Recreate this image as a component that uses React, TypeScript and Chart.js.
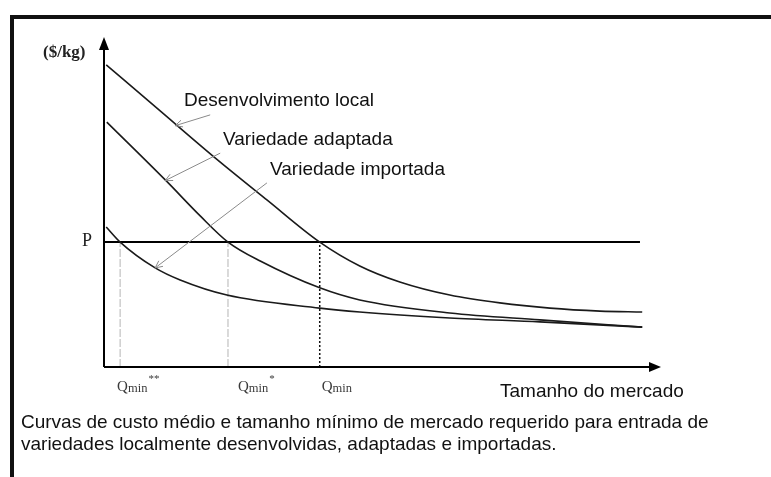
import React, { useEffect, useRef } from "react";
import { Chart, registerables } from "chart.js";

Chart.register(...registerables);

// Market size (x) and average cost (y), both on 0..100 relative scales
const desenvX = [0.4, 10.1, 19.6, 29.3, 38.8, 46.0, 53.2, 62.2, 71.2, 80.2, 89.2, 96.8];
const desenvY = [92.4, 78.3, 64.5, 51.1, 38.2, 30.9, 26.0, 22.0, 19.6, 18.0, 17.1, 16.8];
const adaptX = [0.5, 11.2, 17.3, 22.3, 28.1, 38.8, 46.0, 62.2, 78.4, 96.8];
const adaptY = [74.9, 56.9, 46.2, 38.2, 32.4, 24.2, 20.5, 16.5, 14.4, 12.2];
const importX = [0.4, 2.9, 9.2, 13.7, 22.1, 38.8, 46.0, 62.2, 78.4, 96.8];
const importY = [42.8, 38.2, 30.3, 26.6, 22.0, 18.0, 16.8, 15.0, 13.8, 12.2];

const priceP = 38.2;
const priceLineEnd = 96.4;
const qMinValues = [2.9, 22.3, 38.8];
const qMinSup = ["**", "*", ""];

const seriesNames = ["Desenvolvimento local", "Variedade adaptada", "Variedade importada"];
// annotation arrows: from / to points in data units
const arrowFrom = [
  [19.1, 77.1],
  [20.9, 65.4],
  [29.3, 56.3],
];
const arrowTo = [
  [12.8, 73.8],
  [11.0, 57.0],
  [9.2, 30.3],
];

const yAxisTitle = "($/kg)";
const priceLabel = "P";
const xAxisTitle = "Tamanho do mercado";
const captionLines = [
  "Curvas de custo médio e tamanho mínimo de mercado requerido para entrada de",
  "variedades localmente desenvolvidas, adaptadas e importadas.",
];

const SANS = '"Liberation Sans", Arial, sans-serif';
const SERIF = '"Liberation Serif", "Times New Roman", serif';

const toPts = (xs: number[], ys: number[]) => xs.map((x, i) => ({ x, y: ys[i] }));

const overlay = {
  id: "overlay",
  afterDraw(chart: any) {
    const ctx: CanvasRenderingContext2D = chart.ctx;
    const xs = chart.scales.x;
    const ys = chart.scales.y;
    const px = (v: number) => xs.getPixelForValue(v);
    const py = (v: number) => ys.getPixelForValue(v);
    const x0 = px(0);
    const y0 = py(0);
    ctx.save();

    // frame (top + left)
    ctx.fillStyle = "#111";
    ctx.fillRect(10, 15, 761, 4);
    ctx.fillRect(10, 15, 4, 462);

    // axes
    ctx.strokeStyle = "#000";
    ctx.fillStyle = "#000";
    ctx.lineWidth = 2;
    ctx.beginPath();
    ctx.moveTo(x0, y0);
    ctx.lineTo(x0, ys.top + 8);
    ctx.moveTo(x0, y0);
    ctx.lineTo(xs.right - 8, y0);
    ctx.stroke();
    ctx.beginPath();
    ctx.moveTo(x0, ys.top - 3);
    ctx.lineTo(x0 - 5, ys.top + 10);
    ctx.lineTo(x0 + 5, ys.top + 10);
    ctx.closePath();
    ctx.fill();
    ctx.beginPath();
    ctx.moveTo(xs.right + 1, y0);
    ctx.lineTo(xs.right - 11, y0 - 5);
    ctx.lineTo(xs.right - 11, y0 + 5);
    ctx.closePath();
    ctx.fill();

    // annotation arrows
    ctx.strokeStyle = "#8a8a8a";
    ctx.lineWidth = 1;
    for (let i = 0; i < arrowFrom.length; i++) {
      const ax = px(arrowFrom[i][0]);
      const ay = py(arrowFrom[i][1]);
      const bx = px(arrowTo[i][0]);
      const by = py(arrowTo[i][1]);
      const ang = Math.atan2(by - ay, bx - ax);
      const L = 8;
      ctx.beginPath();
      ctx.moveTo(ax, ay);
      ctx.lineTo(bx, by);
      ctx.moveTo(bx - L * Math.cos(ang - 0.45), by - L * Math.sin(ang - 0.45));
      ctx.lineTo(bx, by);
      ctx.lineTo(bx - L * Math.cos(ang + 0.45), by - L * Math.sin(ang + 0.45));
      ctx.stroke();
    }

    // annotation texts
    ctx.fillStyle = "#111";
    ctx.font = `19px ${SANS}`;
    ctx.textBaseline = "alphabetic";
    ctx.textAlign = "left";
    const annPos = [
      [184, 106],
      [223, 145],
      [270, 175],
    ];
    seriesNames.forEach((n, i) => ctx.fillText(n, annPos[i][0], annPos[i][1]));

    ctx.fillText(xAxisTitle, 500, 397);
    captionLines.forEach((l, i) => ctx.fillText(l, 21, 428 + i * 22));

    ctx.fillStyle = "#222";
    ctx.font = `bold 17px ${SERIF}`;
    ctx.fillText(yAxisTitle, 43, 57);
    ctx.font = `18px ${SERIF}`;
    ctx.fillText(priceLabel, 82, py(priceP) + 4);

    // Q labels
    ctx.fillStyle = "#3a3a3a";
    const labelShift = [-3, 10, 2];
    qMinValues.forEach((q, i) => {
      let x = px(q) + labelShift[i];
      const base = y0 + 24;
      ctx.font = `15px ${SERIF}`;
      ctx.fillText("Q", x, base);
      x += ctx.measureText("Q").width;
      ctx.font = `12.5px ${SERIF}`;
      ctx.fillText("min", x, base + 1);
      x += ctx.measureText("min").width + 1;
      if (qMinSup[i]) {
        ctx.font = `11px ${SERIF}`;
        ctx.fillText(qMinSup[i], x, base - 9);
      }
    });

    ctx.restore();
  },
};

export default function App() {
  const ref = useRef<HTMLCanvasElement | null>(null);
  useEffect(() => {
    if (!ref.current) return;
    const curveStyle = {
      showLine: true,
      pointRadius: 0,
      borderColor: "#1a1a1a",
      borderWidth: 1.6,
      cubicInterpolationMode: "monotone" as const,
      clip: false as any,
    };
    const chart = new Chart(ref.current, {
      type: "scatter",
      data: {
        datasets: [
          { ...curveStyle, label: seriesNames[0], data: toPts(desenvX, desenvY) },
          { ...curveStyle, label: seriesNames[1], data: toPts(adaptX, adaptY) },
          { ...curveStyle, label: seriesNames[2], data: toPts(importX, importY) },
          {
            label: "P",
            showLine: true,
            pointRadius: 0,
            borderColor: "#000",
            borderWidth: 2,
            clip: false as any,
            data: [
              { x: 0, y: priceP },
              { x: priceLineEnd, y: priceP },
            ],
          },
          ...qMinValues.map((q, i) => ({
            label: "Qmin" + qMinSup[i],
            showLine: true,
            pointRadius: 0,
            borderColor: i === 2 ? "#111" : "#b5b5b5",
            borderWidth: i === 2 ? 1.5 : 1,
            borderDash: i === 2 ? [2, 2] : [8, 2],
            clip: false as any,
            data: [
              { x: q, y: 0 },
              { x: q, y: priceP },
            ],
          })),
        ],
      },
      options: {
        animation: false,
        responsive: false,
        maintainAspectRatio: false,
        devicePixelRatio: 1,
        layout: { padding: { left: 104, right: 111, top: 40, bottom: 110 } },
        plugins: { legend: { display: false }, tooltip: { enabled: false } },
        scales: {
          x: { type: "linear", min: 0, max: 100, display: false },
          y: { type: "linear", min: 0, max: 100, display: false },
        },
      },
      plugins: [overlay],
    });
    return () => chart.destroy();
  }, []);
  return (
    <div style={{ position: "fixed", left: 0, top: 0, width: 771, height: 477, background: "#fff" }}>
      <canvas ref={ref} width={771} height={477} style={{ display: "block", width: 771, height: 477 }} />
    </div>
  );
}
